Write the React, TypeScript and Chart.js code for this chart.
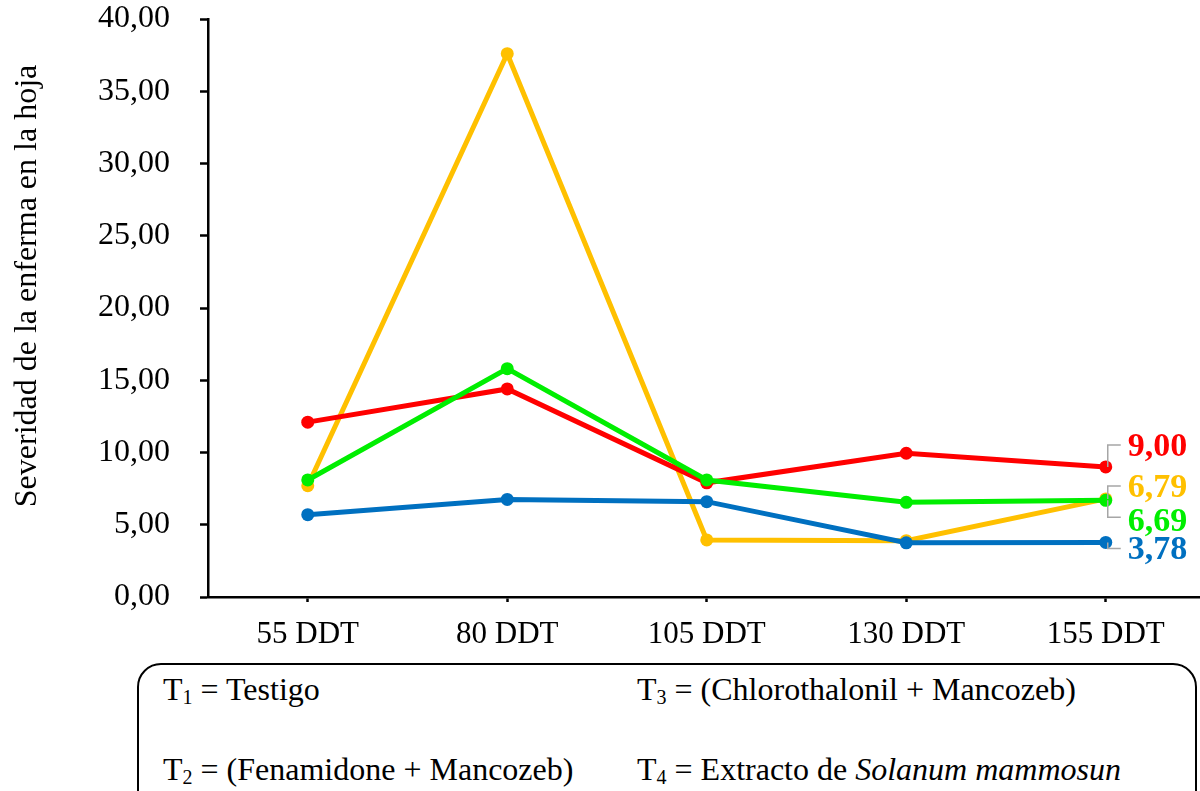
import React, { useEffect, useRef } from "react";
import { Chart, registerables } from "chart.js";

Chart.register(...registerables);

const categories = ["55 DDT", "80 DDT", "105 DDT", "130 DDT", "155 DDT"];
const t1Values = [12.1, 14.4, 7.9, 9.95, 9.0];
const t2Values = [7.7, 37.6, 3.95, 3.9, 6.79];
const t3Values = [8.1, 15.8, 8.1, 6.55, 6.69];
const t4Values = [5.7, 6.75, 6.6, 3.75, 3.78];
const seriesNames = ["T1", "T2", "T3", "T4"];
const seriesColors = ["#FF0000", "#FFC000", "#00EE00", "#0070C0"];
const seriesOrder = [2, 3, 0, 1];
const endLabelOffsets = [-20, -11, 22, 8];
const yMin = 0;
const yMax = 40;
const yStep = 5;
const yTitle = "Severidad de la enferma en la hoja";

const FONT = "'Liberation Serif', 'Times New Roman', serif";

const fmt = (v: number) => v.toFixed(2).replace(".", ",");

const endLabelsPlugin = {
  id: "endLabels",
  afterDatasetsDraw(chart: any) {
    const ctx = chart.ctx;
    ctx.save();
    chart.data.datasets.forEach((ds: any, i: number) => {
      const meta = chart.getDatasetMeta(i);
      const el = meta.data[meta.data.length - 1];
      if (!el) return;
      const px = el.x;
      const py = el.y;
      const ly = py + endLabelOffsets[i];
      const lineY = ly - (endLabelOffsets[i] > 15 ? 5 : 2);
      ctx.strokeStyle = "#A6A6A6";
      ctx.lineWidth = 1.5;
      ctx.beginPath();
      ctx.moveTo(px + 2, py);
      ctx.lineTo(px + 2, lineY);
      ctx.lineTo(px + 15, lineY);
      ctx.stroke();
      ctx.fillStyle = seriesColors[i];
      ctx.font = `bold 34px ${FONT}`;
      ctx.textAlign = "left";
      ctx.textBaseline = "middle";
      ctx.fillText(fmt(ds.data[ds.data.length - 1]), px + 22, ly);
    });
    ctx.restore();
  },
};

const yTitlePlugin = {
  id: "yTitle",
  afterDraw(chart: any) {
    const ctx = chart.ctx;
    const y = chart.scales.y;
    ctx.save();
    ctx.translate(36, (y.top + y.bottom) / 2 - 22);
    ctx.rotate(-Math.PI / 2);
    ctx.fillStyle = "#000";
    ctx.font = `32px ${FONT}`;
    ctx.textAlign = "center";
    ctx.textBaseline = "alphabetic";
    ctx.fillText(yTitle, 0, 0);
    ctx.restore();
  },
};

export default function App() {
  const ref = useRef<HTMLCanvasElement>(null);

  useEffect(() => {
    if (!ref.current) return;
    const allValues = [t1Values, t2Values, t3Values, t4Values];
    const chart = new Chart(ref.current, {
      type: "line",
      data: {
        labels: categories,
        datasets: allValues.map((vals, i) => ({
          label: seriesNames[i],
          data: vals,
          borderColor: seriesColors[i],
          backgroundColor: seriesColors[i],
          pointBackgroundColor: seriesColors[i],
          pointBorderColor: seriesColors[i],
          pointBorderWidth: 0,
          pointRadius: 6.5,
          borderWidth: 5,
          tension: 0,
          fill: false,
          order: seriesOrder[i],
        })),
      },
      options: {
        responsive: false,
        animation: false,
        devicePixelRatio: 1,
        layout: { padding: { top: 19, right: 1, left: 0, bottom: 0 } },
        plugins: {
          legend: { display: false },
          tooltip: { enabled: false },
          title: { display: false },
        },
        scales: {
          x: {
            type: "category",
            offset: true,
            grid: {
              offset: false,
              drawOnChartArea: false,
              drawTicks: true,
              tickLength: 5,
              tickWidth: 2.5,
              tickColor: "#000",
            },
            border: { display: true, color: "#000", width: 2.5 },
            ticks: {
              color: "#000",
              font: { family: FONT, size: 31 },
              padding: 14,
              maxRotation: 0,
              autoSkip: false,
            },
            afterFit(scale: any) {
              scale.height = 63;
              scale.paddingLeft = 0;
              scale.paddingRight = 0;
            },
          },
          y: {
            min: yMin,
            max: yMax,
            grid: {
              drawOnChartArea: false,
              drawTicks: true,
              tickLength: 8,
              tickWidth: 2.5,
              tickColor: "#000",
            },
            border: { display: true, color: "#000", width: 2.5 },
            ticks: {
              stepSize: yStep,
              color: "#000",
              font: { family: FONT, size: 32 },
              padding: 30,
              callback: (v: any) => fmt(Number(v)),
            },
            afterFit(scale: any) {
              scale.width = 208;
              scale.paddingTop = 0;
              scale.paddingBottom = 0;
            },
          },
        },
      },
      plugins: [endLabelsPlugin, yTitlePlugin],
    });
    return () => chart.destroy();
  }, []);

  const rowStyle: React.CSSProperties = {
    position: "absolute",
    fontFamily: FONT,
    fontSize: 32,
    lineHeight: "36px",
    whiteSpace: "nowrap",
    color: "#000",
  };
  const subStyle: React.CSSProperties = {
    fontSize: 20,
    verticalAlign: "-4px",
    lineHeight: 0,
  };

  return (
    <div
      style={{
        position: "absolute",
        left: 0,
        top: 0,
        width: 1200,
        height: 791,
        overflow: "hidden",
        background: "#fff",
      }}
    >
      <canvas
        ref={ref}
        width={1212}
        height={660}
        style={{ position: "absolute", left: 0, top: 0, width: 1212, height: 660 }}
      />
      <div
        style={{
          position: "absolute",
          left: 137,
          top: 663,
          width: 1060,
          height: 170,
          border: "2px solid #000",
          borderRadius: 24,
          boxSizing: "border-box",
        }}
      />
      <div style={{ ...rowStyle, left: 163, top: 671 }}>
        T<span style={subStyle}>1</span> = Testigo
      </div>
      <div style={{ ...rowStyle, left: 637, top: 671 }}>
        T<span style={subStyle}>3</span> = (Chlorothalonil + Mancozeb)
      </div>
      <div style={{ ...rowStyle, left: 163, top: 751 }}>
        T<span style={subStyle}>2</span> = (Fenamidone + Mancozeb)
      </div>
      <div style={{ ...rowStyle, left: 637, top: 751 }}>
        T<span style={subStyle}>4</span> = Extracto de <i>Solanum mammosun</i>
      </div>
    </div>
  );
}
